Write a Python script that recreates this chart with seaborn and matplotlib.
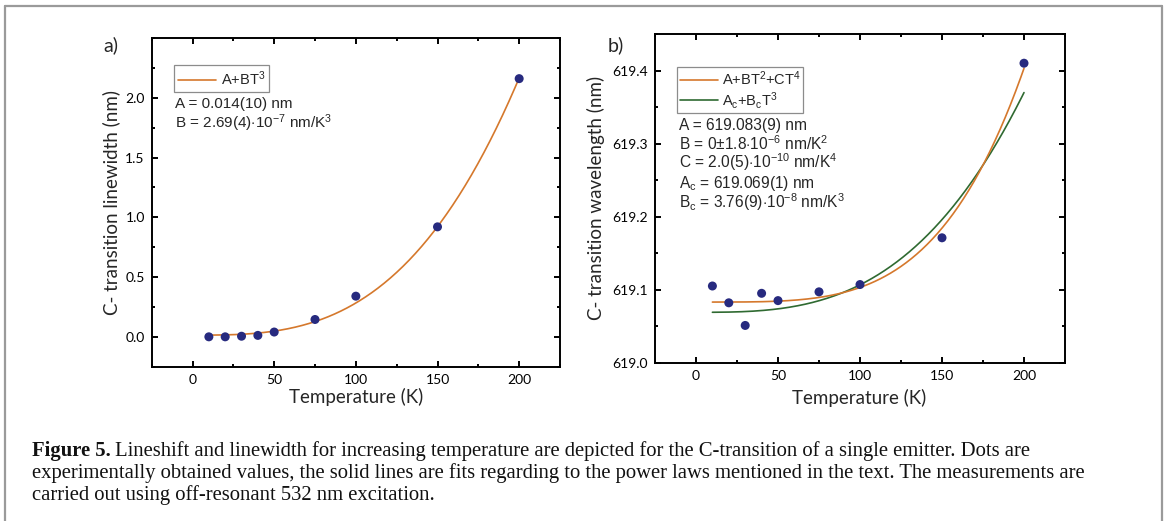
import numpy as np
import pandas as pd
import matplotlib
matplotlib.use("Agg")
import matplotlib.pyplot as plt
from matplotlib.lines import Line2D
from matplotlib.ticker import MultipleLocator
import seaborn as sns

# ---------------- data ----------------
temperature = [10, 20, 30, 40, 50, 75, 100, 150, 200]
linewidth_nm = [0.0, 0.0, 0.005, 0.012, 0.04, 0.145, 0.34, 0.92, 2.16]
wavelength_nm = [619.105, 619.082, 619.051, 619.095, 619.085, 619.097, 619.107, 619.171, 619.41]

# fit parameters as printed in the panels
fit_a_A, fit_a_B = 0.014, 2.69e-7                       # A + B T^3
fit_b_A, fit_b_B, fit_b_C = 619.083, 0.0, 2.0e-10         # A + B T^2 + C T^4
fit_c_A, fit_c_B = 619.069, 3.76e-8                      # Ac + Bc T^3

xticks = [0, 50, 100, 150, 200]
yticks_a = [0.0, 0.5, 1.0, 1.5, 2.0]
yticks_b = [619.0, 619.1, 619.2, 619.3, 619.4]

legend_a = [r"A+BT$^{3}$"]
legend_b = [r"A+BT$^{2}$+CT$^{4}$", r"A$_{\mathrm{c}}$+B$_{\mathrm{c}}$T$^{3}$"]
notes_a = [r"A = 0.014(10) nm", r"B = 2.69(4)$\cdot$10$^{-7}$ nm/K$^{3}$"]
notes_b = [r"A = 619.083(9) nm", r"B = 0$\pm$1.8$\cdot$10$^{-6}$ nm/K$^{2}$",
           r"C = 2.0(5)$\cdot$10$^{-10}$ nm/K$^{4}$",
           r"A$_{\mathrm{c}}$ = 619.069(1) nm", r"B$_{\mathrm{c}}$ = 3.76(9)$\cdot$10$^{-8}$ nm/K$^{3}$"]

caption_bold = "Figure 5."
caption_lines = [
    "Lineshift and linewidth for increasing temperature are depicted for the C-transition of a single emitter. Dots are",
    "experimentally obtained values, the solid lines are fits regarding to the power laws mentioned in the text. The measurements are",
    "carried out using off-resonant 532 nm excitation.",
]

# ---------------- style ----------------
sns.set_theme(style="ticks")
plt.rcParams["font.family"] = ["Lato", "DejaVu Sans"]
plt.rcParams["mathtext.fontset"] = "custom"
plt.rcParams["mathtext.rm"] = "Liberation Sans"
plt.rcParams["mathtext.it"] = "Liberation Sans:italic"
plt.rcParams["mathtext.bf"] = "Liberation Sans:bold"

DOT = "#272a7f"
ORANGE = "#d5782c"
GREEN = "#2f6a31"

W, H = 1166, 521
fig = plt.figure(figsize=(W / 100, H / 100), dpi=100)

def px_axes(l, t, r, b):
    return fig.add_axes([l / W, 1 - b / H, (r - l) / W, (b - t) / H])

ax_a = px_axes(151.7, 38, 560, 366.7)
ax_b = px_axes(655, 34, 1065, 362.7)

Tfit = np.linspace(min(temperature), max(temperature), 300)
df = pd.DataFrame({"T": temperature, "lw": linewidth_nm, "wl": wavelength_nm})
fa = pd.DataFrame({"T": Tfit, "y": fit_a_A + fit_a_B * Tfit ** 3})
fb = pd.DataFrame({"T": Tfit, "y": fit_b_A + fit_b_B * Tfit ** 2 + fit_b_C * Tfit ** 4})
fc = pd.DataFrame({"T": Tfit, "y": fit_c_A + fit_c_B * Tfit ** 3})

sns.lineplot(data=fa, x="T", y="y", ax=ax_a, color=ORANGE, lw=1.2, zorder=2)
sns.scatterplot(data=df, x="T", y="lw", ax=ax_a, color=DOT, s=42, edgecolor="none", zorder=3)

sns.lineplot(data=fc, x="T", y="y", ax=ax_b, color=GREEN, lw=1.2, zorder=2)
sns.lineplot(data=fb, x="T", y="y", ax=ax_b, color=ORANGE, lw=1.2, zorder=2)
sns.scatterplot(data=df, x="T", y="wl", ax=ax_b, color=DOT, s=42, edgecolor="none", zorder=3)

ax_a.set_xlim(-25, 225)
ax_a.set_ylim(-0.25, 2.5)
ax_b.set_xlim(-25, 225)
ax_b.set_ylim(619.0, 619.45)

for ax, yt, ymin in ((ax_a, yticks_a, 0.25), (ax_b, yticks_b, 0.05)):
    ax.set_xticks(xticks)
    ax.set_xticklabels([str(v) for v in xticks])
    ax.set_yticks(yt)
    ax.set_yticklabels([f"{v:.1f}" for v in yt])
    ax.xaxis.set_minor_locator(MultipleLocator(25))
    ax.yaxis.set_minor_locator(MultipleLocator(ymin))
    ax.tick_params(which="both", direction="in", top=True, right=True, width=1.4, colors="black")
    ax.tick_params(which="major", length=4.5, labelsize=10, pad=5)
    ax.tick_params(which="minor", length=2.5)
    for s in ax.spines.values():
        s.set_linewidth(1.4)
        s.set_color("black")
        s.set_visible(True)
    ax.set_xlabel("Temperature (K)", fontsize=13.5)

ax_a.set_ylabel("C- transition linewidth (nm)", fontsize=13.5)
ax_b.set_ylabel("C- transition wavelength (nm)", fontsize=13.5)
ax_a.yaxis.set_label_coords(-0.078, 0.5)
ax_b.yaxis.set_label_coords(-0.122, 0.5)
ax_a.xaxis.set_label_coords(0.5, -0.065)
ax_b.xaxis.set_label_coords(0.497, -0.08)

leg_kw = dict(loc="upper left", borderaxespad=0, fancybox=False, edgecolor="#8c8c8c",
              framealpha=1, handlelength=2.6, handletextpad=0.3, borderpad=0.18,
              labelspacing=0.12, prop={"family": "Liberation Sans", "size": 10.5})
lg = ax_a.legend(handles=[Line2D([], [], color=ORANGE, lw=1.2)], labels=legend_a,
                 bbox_to_anchor=(0.0546, 0.918), **{**leg_kw, "borderpad": 0.3})
lg.get_frame().set_linewidth(0.9)
lg = ax_b.legend(handles=[Line2D([], [], color=ORANGE, lw=1.2), Line2D([], [], color=GREEN, lw=1.2)],
                 labels=legend_b, bbox_to_anchor=(0.0537, 0.90), **leg_kw)
lg.get_frame().set_linewidth(0.9)

for txt, y in zip(notes_a, [0.798, 0.742]):
    ax_a.text(0.057, y, txt, transform=ax_a.transAxes, ha="left", va="center",
              fontsize=11, family="Liberation Sans")
for txt, y in zip(notes_b, [0.721, 0.665, 0.610, 0.544, 0.488]):
    ax_b.text(0.0585, y, txt, transform=ax_b.transAxes, ha="left", va="center",
              fontsize=11.2, family="Liberation Sans")

fig.text(103 / W, 1 - 45 / H, "a)", fontsize=14, ha="left", va="center")
fig.text(608 / W, 1 - 45 / H, "b)", fontsize=14, ha="left", va="center")

# outer gray frame
for xs, ys in (([5, 5], [H + 5, 6]), ([5, 1162], [6, 6]), ([1162, 1162], [6, H + 5])):
    fig.add_artist(Line2D([x / W for x in xs], [1 - y / H for y in ys], transform=fig.transFigure,
                          color="#9a9a9a", lw=1.6, clip_on=False))

# caption
cap_font = dict(family="Liberation Serif", fontsize=14.9, color="#111111")
renderer = fig.canvas.get_renderer()
x0 = 32 / W
bold = fig.text(x0, 1 - 456 / H, caption_bold, fontweight="bold", va="baseline", ha="left", **cap_font)
bb = bold.get_window_extent(renderer=renderer)
fig.text((bb.x1 + 4) / W, 1 - 456 / H, caption_lines[0], va="baseline", ha="left", **cap_font)
fig.text(x0, 1 - 478 / H, caption_lines[1], va="baseline", ha="left", **cap_font)
fig.text(x0, 1 - 500 / H, caption_lines[2], va="baseline", ha="left", **cap_font)

fig.savefig("out.png", dpi=100)
